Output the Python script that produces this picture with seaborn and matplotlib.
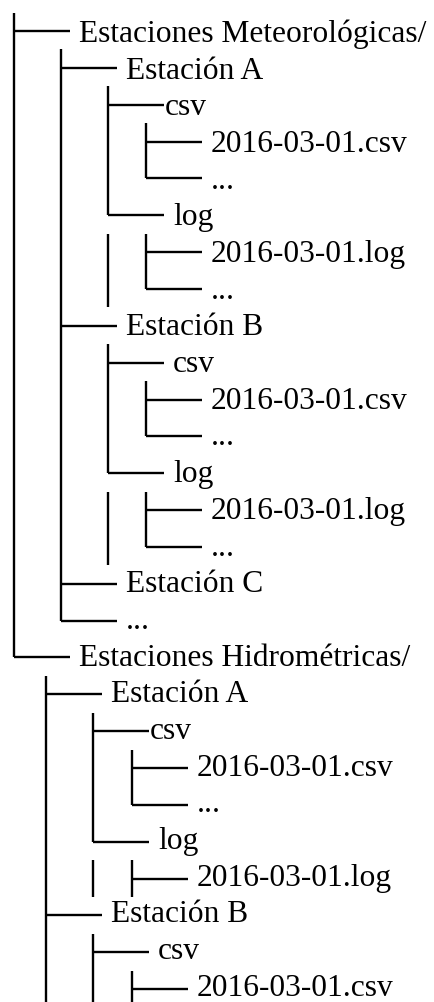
import matplotlib
matplotlib.use("Agg")
import matplotlib.pyplot as plt
import seaborn as sns
import pandas as pd

# ---- data: tree rows (prefix characters per column, label) ----
prefixes = [
    "├", "│├", "││├", "│││├", "│││└", "││└", "│││├", "│││└",
    "│├", "││├", "│││├", "│││└", "││└", "│││├", "│││└",
    "│├", "│└", "└",
    " ├", " │├", " ││├", " ││└", " │└", " ││├", " ├", " │├", " ││├",
]
labels = [
    "Estaciones Meteorológicas/", "Estación A", "csv", "2016-03-01.csv", "...",
    "log", "2016-03-01.log", "...",
    "Estación B", "csv", "2016-03-01.csv", "...", "log", "2016-03-01.log", "...",
    "Estación C", "...", "Estaciones Hidrométricas/",
    "Estación A", "csv", "2016-03-01.csv", "...", "log", "2016-03-01.log",
    "Estación B", "csv", "2016-03-01.csv",
]
tree_group = [0] * 18 + [1] * 9
tight_rows = [2, 19]

# ---- layout ----
W, H = 435, 1003
col_x = {0: [14, 61, 108, 146], 1: [14, 46, 93, 132]}
y0, row_h = 32.0, 36.85
text_y0, text_row_h = 42.0, 36.68
half = row_h / 2
branch_len = 56
gap_default, gap_tight = 9, 1
lw = 1.7

sns.set_theme(style="white")
fig = plt.figure(figsize=(W / 100, H / 100), dpi=100)
ax = fig.add_axes([0, 0, 1, 1])

segs = []
sid = 0
for i, (pre, lab) in enumerate(zip(prefixes, labels)):
    y = y0 + i * row_h
    ty = text_y0 + i * text_row_h
    xs = col_x[tree_group[i]]
    for c, ch in enumerate(pre):
        x = xs[c]
        if ch in "│├":
            segs += [(sid, x, y - half), (sid, x, y + half)]
            sid += 1
        elif ch == "└":
            segs += [(sid, x, y - half), (sid, x, y)]
            sid += 1
        if ch in "├└":
            segs += [(sid, x, y), (sid, x + branch_len, y)]
            sid += 1
            gap = gap_tight if i in tight_rows else gap_default
            ax.text(x + branch_len + gap, ty, lab,
                    fontsize=22.7, family="Liberation Serif",
                    ha="left", va="baseline", color="black")

df = pd.DataFrame(segs, columns=["seg", "x", "y"])
sns.lineplot(data=df, x="x", y="y", units="seg", estimator=None, sort=False,
             color="black", lw=lw, ax=ax, solid_capstyle="butt")

ax.set_xlim(0, W)
ax.set_ylim(H, 0)
ax.axis("off")
fig.savefig("out.png", dpi=100, facecolor="white")
